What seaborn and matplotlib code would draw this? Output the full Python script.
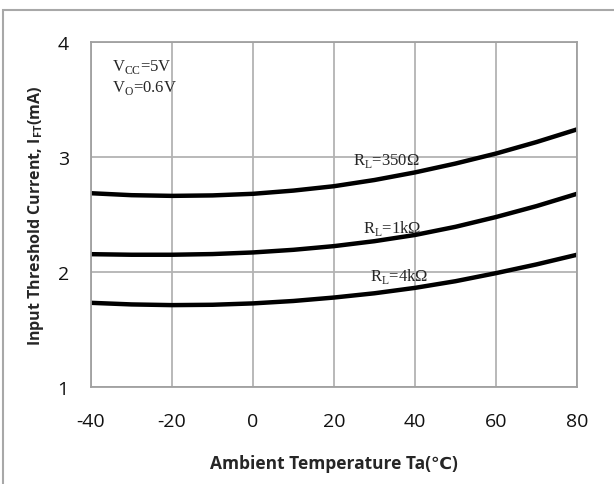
import matplotlib
matplotlib.use("Agg")
import matplotlib.pyplot as plt
import seaborn as sns
import pandas as pd
from matplotlib.patches import Rectangle

temps = [-40, -30, -20, -10, 0, 10, 20, 30, 40, 50, 60, 70, 80]
i_350 = [2.685, 2.668, 2.662, 2.666, 2.680, 2.708, 2.746, 2.800, 2.866, 2.943, 3.030, 3.130, 3.240]
i_1k = [2.155, 2.150, 2.150, 2.156, 2.170, 2.193, 2.225, 2.268, 2.322, 2.393, 2.478, 2.573, 2.680]
i_4k = [1.732, 1.718, 1.712, 1.715, 1.727, 1.748, 1.778, 1.815, 1.862, 1.920, 1.990, 2.066, 2.150]
series_names = ["350", "1k", "4k"]
x_ticks = [-40, -20, 0, 20, 40, 60, 80]
y_ticks = [1, 2, 3, 4]

df = pd.DataFrame({
    "T": temps * 3,
    "I": i_350 + i_1k + i_4k,
    "R": [n for n in series_names for _ in temps],
})

sns.set_style("white")
plt.rcParams["font.family"] = ["Open Sans", "DejaVu Sans"]
plt.rcParams["axes.unicode_minus"] = False
plt.rcParams["mathtext.fontset"] = "custom"
plt.rcParams["mathtext.rm"] = "Liberation Serif"
plt.rcParams["mathtext.bf"] = "Open Sans:bold"
plt.rcParams["mathtext.sf"] = "Open Sans"

fig = plt.figure(figsize=(6.14, 4.85), dpi=100)
ax = fig.add_axes([91 / 614, 1 - 388 / 485, (577 - 91) / 614, (388 - 43) / 485])

sns.lineplot(data=df, x="T", y="I", units="R", estimator=None, color="black",
             linewidth=3.2, ax=ax, legend=False)

ax.set_xlim(-40, 80)
ax.set_ylim(1, 4)
ax.set_xticks(x_ticks)
ax.set_yticks(y_ticks)
ax.grid(True, color="#b3b3b3", linewidth=1.3)
ax.set_axisbelow(True)
for s in ax.spines.values():
    s.set_color("#a0a0a0")
    s.set_linewidth(1.3)
ax.tick_params(axis="both", length=0, labelsize=14, colors="#111111")
ax.tick_params(axis="x", pad=18)
ax.tick_params(axis="y", pad=16)

ax.set_xlabel("Ambient Temperature Ta(\u2103)", fontsize=12.5, fontweight="bold", labelpad=17)
ax.set_ylabel(r"Input Threshold Current, I$_\mathbf{FT}$(mA)", fontsize=11.5,
              fontweight="bold", labelpad=8)

serif = "Liberation Serif"
ax.text(-34.8, 3.79, r"V$_\mathrm{CC}$=5V", fontfamily=serif, fontsize=12, va="center")
ax.text(-34.8, 3.61, r"V$_\mathrm{O}$=0.6V", fontfamily=serif, fontsize=12, va="center")
ax.text(33, 2.97, r"R$_\mathrm{L}$=350Ω", fontfamily=serif, fontsize=12, ha="center", va="center")
ax.text(34.4, 2.39, r"R$_\mathrm{L}$=1kΩ", fontfamily=serif, fontsize=12, ha="center", va="center")
ax.text(36, 1.97, r"R$_\mathrm{L}$=4kΩ", fontfamily=serif, fontsize=12, ha="center", va="center")

fig.patches.append(Rectangle((3 / 614, -0.05), 1.2, 1 - 11 / 485 + 0.05,
                             transform=fig.transFigure, fill=False,
                             edgecolor="#a8a8a8", linewidth=1.5))

fig.savefig("out.png", dpi=100)
